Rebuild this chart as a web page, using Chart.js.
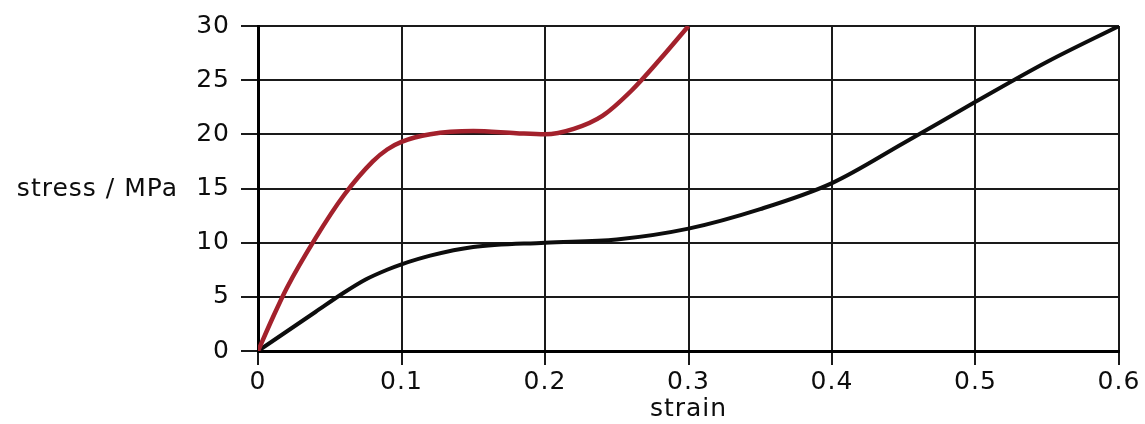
<!DOCTYPE html>
<html>
<head>
<meta charset="utf-8">
<script src="https://cdn.jsdelivr.net/npm/chart.js@4.4.0/dist/chart.umd.min.js"></script>
<style>
  html, body { margin: 0; padding: 0; background: #fff; }
  #wrap { width: 1145px; height: 424px; }
</style>
</head>
<body>
<div id="wrap"><canvas id="chart" width="1145" height="424"></canvas></div>
<script>
// values
const redStrain = [0, 0.01, 0.02, 0.04, 0.06, 0.08, 0.09, 0.1, 0.12, 0.15, 0.18, 0.2, 0.22, 0.24, 0.26, 0.28, 0.3];
const redStress = [0, 3, 5.8, 10.4, 14.4, 17.5, 18.6, 19.3, 20.0, 20.3, 20.1, 20.0, 20.5, 21.7, 24.0, 26.9, 30];

const blackStrain = [0, 0.02, 0.04, 0.06, 0.075, 0.09, 0.1, 0.12, 0.15, 0.2, 0.25, 0.3, 0.35, 0.4, 0.45, 0.5, 0.55, 0.6];
const blackStress = [0, 1.8, 3.6, 5.4, 6.6, 7.5, 8.0, 8.8, 9.6, 10.0, 10.3, 11.3, 13.1, 15.5, 19.2, 23, 26.7, 30];

const xTickLabels = ['0', '0.1', '0.2', '0.3', '0.4', '0.5', '0.6'];
const yTickLabels = ['0', '5', '10', '15', '20', '25', '30'];
const xTitle = 'strain';
const yTitle = 'stress / MPa';

const toPoints = (xs, ys) => xs.map((x, i) => ({ x: x, y: ys[i] }));

const FONT = { family: '"DejaVu Sans", sans-serif', size: 25 };
const INK = '#0d0d0d';

// wider lettering like the scanned figure
const spacing = {
  id: 'spacing',
  beforeLayout(chart) { chart.ctx.letterSpacing = '1px'; },
  beforeDraw(chart) { chart.ctx.letterSpacing = '1px'; }
};

// horizontal y-axis title, left of the tick labels
const sideTitle = {
  id: 'sideTitle',
  afterDraw(chart) {
    const ctx = chart.ctx;
    const y = chart.scales.y.getPixelForValue(15);
    ctx.save();
    ctx.font = FONT.size + 'px ' + FONT.family;
    ctx.fillStyle = INK;
    ctx.textAlign = 'right';
    ctx.textBaseline = 'middle';
    ctx.fillText(yTitle, 178, y + 1);
    ctx.restore();
  }
};

new Chart(document.getElementById('chart').getContext('2d'), {
  type: 'line',
  data: {
    datasets: [
      {
        data: toPoints(redStrain, redStress),
        borderColor: '#a3212c',
        borderWidth: 4.5,
        pointRadius: 0,
        cubicInterpolationMode: 'monotone',
        fill: false
      },
      {
        data: toPoints(blackStrain, blackStress),
        borderColor: '#0d0d0d',
        borderWidth: 4,
        pointRadius: 0,
        cubicInterpolationMode: 'monotone',
        fill: false
      }
    ]
  },
  options: {
    responsive: false,
    animation: false,
    layout: { padding: { left: 0, right: 26, top: 23, bottom: 0 } },
    plugins: {
      legend: { display: false },
      tooltip: { enabled: false }
    },
    scales: {
      x: {
        type: 'linear',
        min: 0,
        max: 0.6,
        afterFit(scale) { scale.height = 73; },
        ticks: {
          stepSize: 0.1,
          autoSkip: false,
          maxRotation: 0,
          color: INK,
          font: FONT,
          padding: 2,
          callback: (v) => xTickLabels[Math.round(v * 10)]
        },
        grid: { color: '#1a1a1a', lineWidth: 2, tickLength: 14 },
        border: { color: '#000', width: 3 },
        title: {
          display: true,
          text: xTitle,
          color: INK,
          font: FONT,
          padding: { top: 0, bottom: 0 }
        }
      },
      y: {
        min: 0,
        max: 30,
        afterFit(scale) { scale.width = 258; },
        ticks: {
          stepSize: 5,
          color: INK,
          font: FONT,
          padding: 11,
          callback: (v) => yTickLabels[Math.round(v / 5)]
        },
        grid: { color: '#1a1a1a', lineWidth: 2, tickLength: 17 },
        border: { color: '#000', width: 3 }
      }
    }
  },
  plugins: [spacing, sideTitle]
});
</script>
</body>
</html>
